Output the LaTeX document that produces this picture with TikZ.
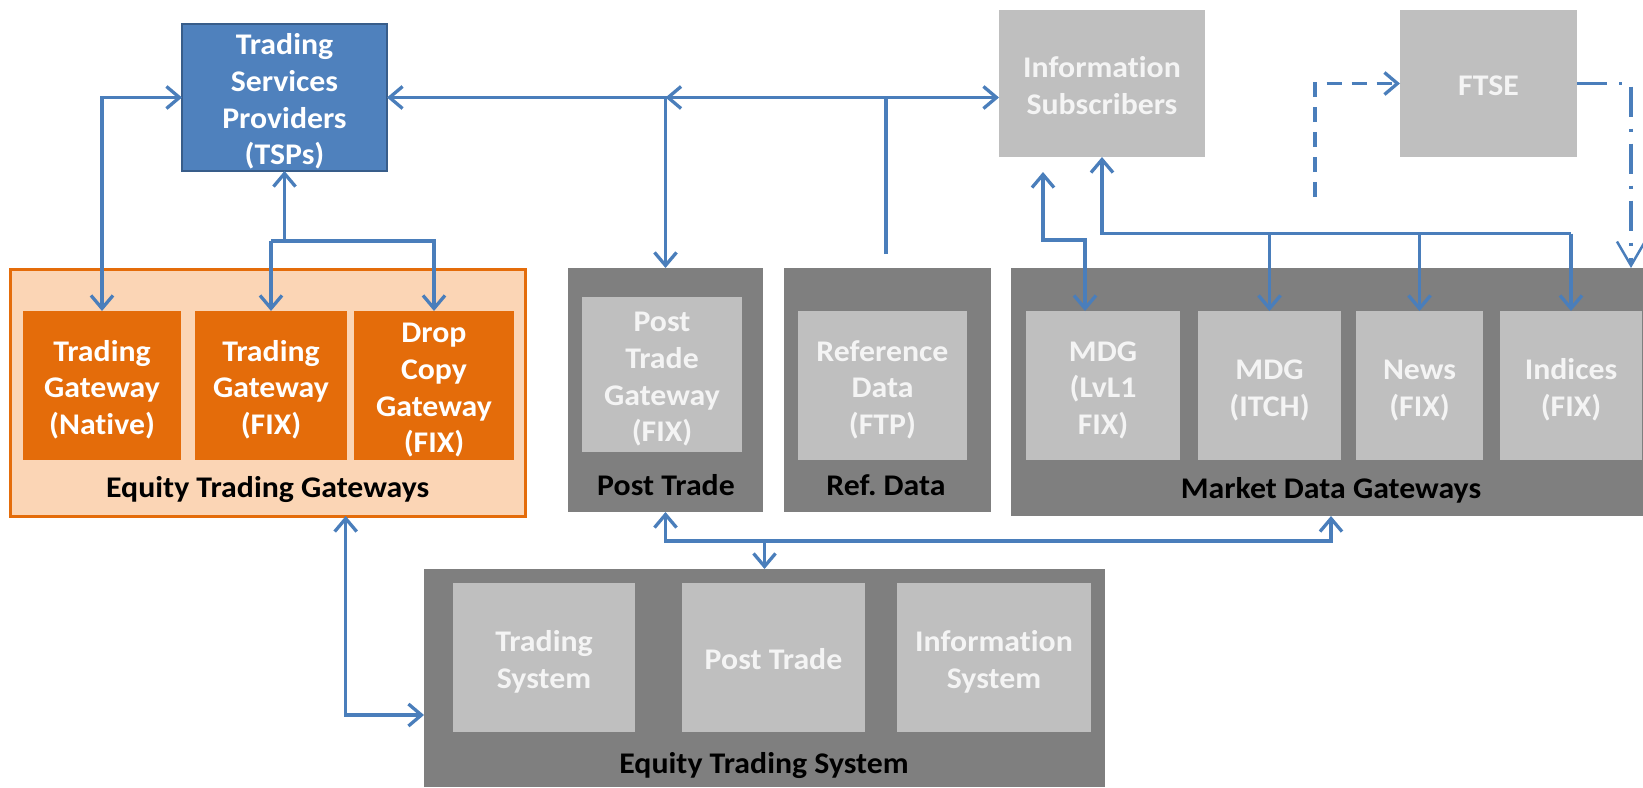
\documentclass[tikz,border=0pt]{standalone}
\usepackage{fontspec}
\setmainfont{Carlito}[FakeStretch=1.06,Ligatures=NoCommon]
\usetikzlibrary{arrows.meta,calc}

\definecolor{lnblue}{HTML}{4A7EBB}
\definecolor{tspblue}{HTML}{4F81BD}
\definecolor{tspedge}{HTML}{385D8A}
\definecolor{peach}{HTML}{FBD5B5}
\definecolor{orng}{HTML}{E46C0A}
\definecolor{dkgray}{HTML}{7F7F7F}
\definecolor{ltgray}{HTML}{BFBFBF}
\definecolor{boxtext}{HTML}{F4F4F4}

% invisible strut giving every text line the same line box
\newcommand\lstrut{\rule[-6pt]{0pt}{36.6pt}}
% box given by its top-left and bottom-right corners (pixel-like units)
\newcommand\mkbox[7]{\node[#1,anchor=north west,inner sep=0pt,outer sep=0pt,
  minimum width={(#4-#2)*1pt},minimum height={(#5-#3)*1pt}] (#6) at (#2,#3) {\lstrut #7\lstrut};}

\begin{document}
\frenchspacing
\begin{tikzpicture}[x=1pt,y=-1pt,
  >={Straight Barb[length=13pt,width=22pt]},
  txt/.style={font=\fontsize{30}{36.6}\selectfont\bfseries, align=center},
  tspbox/.style={txt, fill=tspblue, draw=tspedge, line width=2.5pt, text=white},
  lightbox/.style={txt, fill=ltgray, text=boxtext},
  darkbox/.style={fill=dkgray},
  orangebox/.style={txt, fill=orng, text=white},
  gatebox/.style={fill=peach, draw=orng, line width=3pt},
  grouplabel/.style={txt, text=black, anchor=base},
  conn/.style={draw=lnblue, line width=3.3pt},
  fdash/.style={dash pattern=on 15pt off 10pt},
  fdashdot/.style={dash pattern=on 30pt off 12pt on 3pt off 12pt}]
\useasboundingbox (0,0) rectangle (1643,787);

% top row
\mkbox{tspbox}{182}{24}{387}{171}{tsp}{Trading\\Services\\Providers\\(TSPs)}
\mkbox{lightbox}{999}{10}{1205}{157}{info}{Information\\Subscribers}
\mkbox{lightbox}{1400}{10}{1577}{157}{ftse}{FTSE}

% equity trading gateways
\mkbox{gatebox}{10}{269}{525}{516}{etg}{}
\mkbox{orangebox}{23}{311}{181}{460}{tgn}{Trading\\Gateway\\(Native)}
\mkbox{orangebox}{195}{311}{347}{460}{tgf}{Trading\\Gateway\\(FIX)}
\mkbox{orangebox}{354}{311}{514}{460}{dcg}{Drop\\Copy\\Gateway\\(FIX)}
\node[grouplabel] (etglab) at (267.7,497) {Equity Trading Gateways};

% post trade
\mkbox{darkbox}{568}{268}{763}{512}{pto}{}
\mkbox{lightbox}{582}{297}{742}{452}{ptg}{Post\\Trade\\Gateway\\(FIX)}
\node[grouplabel] (ptlab) at (666,495) {Post Trade};

% reference data
\mkbox{darkbox}{784}{268}{991}{512}{rdo}{}
\mkbox{lightbox}{798}{311}{967}{460}{rdi}{Reference\\Data\\(FTP)}
\node[grouplabel] (rdlab) at (886,495) {Ref. Data};

% market data gateways
\mkbox{darkbox}{1011}{268}{1643}{516}{mdg}{}
\mkbox{lightbox}{1026}{311}{1180}{460}{lvl1}{MDG\\(LvL1\\FIX)}
\mkbox{lightbox}{1198}{311}{1341}{460}{itch}{MDG\\(ITCH)}
\mkbox{lightbox}{1356}{311}{1483}{460}{news}{News\\(FIX)}
\mkbox{lightbox}{1500}{311}{1642}{460}{ind}{Indices\\(FIX)}
\node[grouplabel] (mdglab) at (1331,498) {Market Data Gateways};

% equity trading system
\mkbox{darkbox}{424}{569}{1105}{787}{ets}{}
\mkbox{lightbox}{453}{583}{635}{732}{tsys}{Trading\\System}
\mkbox{lightbox}{682}{583}{865}{732}{ptsys}{Post Trade}
\mkbox{lightbox}{897}{583}{1091}{732}{isys}{Information\\System}
\node[grouplabel] (etslab) at (764,773) {Equity Trading System};

% routing rows and free ends
\coordinate (rowA) at (0,241);
\coordinate (rowB) at (0,233.5);
\coordinate (rowD) at (0,541);
\coordinate (rowE) at (0,715);
\coordinate (rdend) at (886,254);
\coordinate (l1top) at (1043,172);
\coordinate (l1drop) at (1085,240);
\coordinate (ftsrc) at (1315,197);
\coordinate (ftdst) at (1631,268);
\coordinate (etgport) at (345.7,516);
\coordinate (mdgport) at (1331,516);

% TSP links
\draw[conn,<->] (tgn.north) |- (tsp.west);
\draw[conn,<-] (tsp.south) -- (tsp.south |- rowA);
\draw[conn,->] (tgf.north |- rowA) -- (tgf.north);
\draw[conn,->] (tgf.north |- rowA) -| (dcg.north);
\draw[conn,<->] (tsp.east) -- (tsp.east -| info.west);
\draw[conn,->] (pto.north |- tsp.east) -- (pto.north);
\draw[conn,->] (rdend) |- (pto.north |- tsp.east);

% information subscribers links
\draw[conn,<->] (l1top) |- (l1drop) -- (l1drop |- lvl1.north);
\draw[conn,<-] (info.south) -- (info.south |- rowB) -- (ind.north |- rowB);
\draw[conn,->] (itch.north |- rowB) -- (itch.north);
\draw[conn,->] (news.north |- rowB) -- (news.north);
\draw[conn,->] (ind.north |- rowB) -- (ind.north);

% FTSE feeds
\draw[conn,fdash,->] (ftsrc) |- (ftse.west);
\draw[conn,fdashdot,-{Straight Barb[length=24pt,width=28pt,line width=2.5pt]}] (ftse.east) -| (ftdst);

% equity trading system links
\draw[conn,<->] (etgport) |- (ets.west |- rowE);
\draw[conn,<->] (pto.south) |- (mdgport |- rowD) -- (mdgport);
\draw[conn,->] (ets.north |- rowD) -- (ets.north);
\end{tikzpicture}
\end{document}
